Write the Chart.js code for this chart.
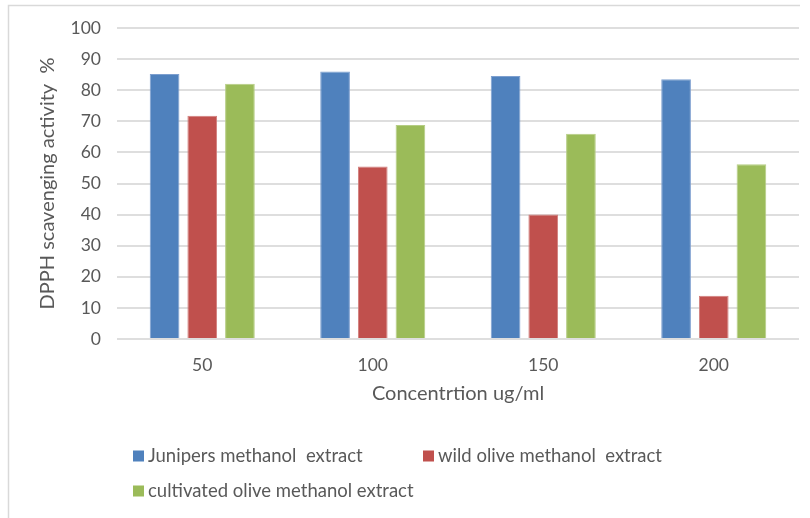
<!DOCTYPE html>
<html>
<head>
<meta charset="utf-8">
<script src="https://cdn.jsdelivr.net/npm/chart.js@4"></script>
<style>
  html, body { margin: 0; padding: 0; background: #ffffff; }
  #wrap { width: 810px; height: 518px; position: relative; }
</style>
</head>
<body>
<div id="wrap"><canvas id="c" width="810" height="518"></canvas></div>
<script>
// Concentrations (ug/ml) on the category axis
const categories = ['50', '100', '150', '200'];

// Series names as shown in the legend
const seriesNames = [
  'Junipers methanol  extract',
  'wild olive methanol  extract',
  'cultivated olive methanol extract'
];

// DPPH scavenging activity (%) per concentration
const juniperValues         = [85.2, 86.0, 84.6, 83.5];
const wildOliveValues       = [71.8, 55.5, 40.0, 13.9];
const cultivatedOliveValues = [82.1, 68.8, 66.0, 56.2];

// Value axis tick labels
const yTickLabels = [0, 10, 20, 30, 40, 50, 60, 70, 80, 90, 100];

const TEXT = '#595959';
const FONT = 'Lato, "Open Sans", sans-serif';

// Light frame along the top and left edge of the chart
const framePlugin = {
  id: 'frame',
  beforeDraw(chart) {
    const ctx = chart.ctx;
    ctx.save();
    ctx.strokeStyle = '#d9d9d9';
    ctx.lineWidth = 1.5;
    ctx.beginPath();
    ctx.moveTo(8.5, 518);
    ctx.lineTo(8.5, 5.5);
    ctx.lineTo(800, 5.5);
    ctx.stroke();
    ctx.restore();
  }
};

// Legend laid out in two fixed columns below the axis title
const legendSlots = [
  { x: 133, y: 456 },
  { x: 423, y: 456 },
  { x: 133, y: 491 }
];
const gridLegendPlugin = {
  id: 'gridLegend',
  afterDraw(chart) {
    const ctx = chart.ctx;
    ctx.save();
    ctx.font = '18.5px ' + FONT;
    ctx.textBaseline = 'middle';
    ctx.textAlign = 'left';
    chart.data.datasets.forEach((ds, i) => {
      const slot = legendSlots[i];
      ctx.fillStyle = ds.backgroundColor;
      ctx.fillRect(slot.x, slot.y - 5.5, 11, 11);
      ctx.fillStyle = TEXT;
      ctx.fillText(ds.label, slot.x + 15, slot.y);
    });
    ctx.restore();
  }
};

const palette = [
  { fill: '#4f81bd', edge: '#7d9fcf' },
  { fill: '#c0504d', edge: '#d27e7c' },
  { fill: '#9bbb59', edge: '#b5cd84' }
];
const seriesValues = [juniperValues, wildOliveValues, cultivatedOliveValues];

new Chart(document.getElementById('c'), {
  type: 'bar',
  data: {
    labels: categories,
    datasets: seriesValues.map((vals, i) => ({
      label: seriesNames[i],
      data: vals,
      backgroundColor: palette[i].fill,
      borderColor: palette[i].edge,
      borderWidth: 1,
      categoryPercentage: 0.663,
      barPercentage: 0.788
    }))
  },
  options: {
    responsive: false,
    animation: false,
    layout: { padding: { left: 30, right: 11, top: 28, bottom: 99 } },
    plugins: {
      legend: { display: false },
      tooltip: { enabled: false }
    },
    scales: {
      x: {
        grid: { display: false },
        border: { display: false },
        ticks: {
          color: TEXT,
          font: { family: FONT, size: 17.5 },
          padding: 8
        },
        title: {
          display: true,
          text: 'Concentrtion ug/ml',
          color: TEXT,
          font: { family: FONT, size: 20 },
          padding: { top: 0, bottom: 13 }
        },
        afterFit(scale) { scale.height = 80; }
      },
      y: {
        min: 0,
        max: 100,
        afterBuildTicks(scale) {
          scale.ticks = yTickLabels.map(v => ({ value: v }));
        },
        grid: {
          color: '#dedede',
          lineWidth: 2,
          drawTicks: false
        },
        border: { display: false },
        ticks: {
          color: TEXT,
          font: { family: FONT, size: 17.5 },
          padding: 16
        },
        title: {
          display: true,
          text: 'DPPH scavenging activity  %',
          color: TEXT,
          font: { family: FONT, size: 20 },
          padding: { top: 6, bottom: 0 }
        },
        afterFit(scale) { scale.width = 87; }
      }
    }
  },
  plugins: [framePlugin, gridLegendPlugin]
});
</script>
</body>
</html>
